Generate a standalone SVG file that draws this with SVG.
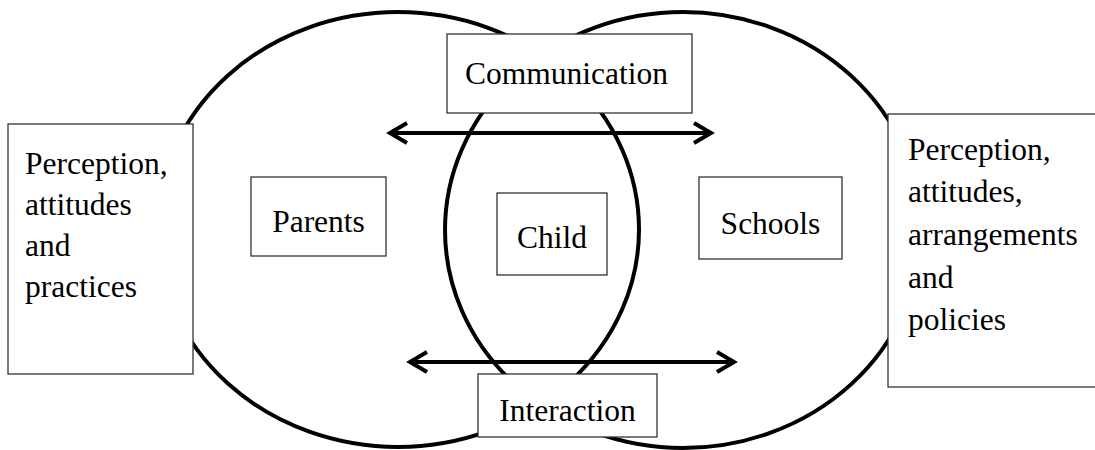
<svg xmlns="http://www.w3.org/2000/svg" width="1095" height="450" viewBox="0 0 1095 450">
<style>
.circ{fill:none;stroke:#000;stroke-width:4}
.box{fill:#fff;stroke:#333;stroke-width:1.3}
.t{font-family:"Liberation Serif","Times New Roman",serif;font-size:31.5px;fill:#000}
.arr{stroke:#000;stroke-width:4;fill:none}
</style>
<defs>
<marker id="head" markerUnits="userSpaceOnUse" markerWidth="30" markerHeight="30" refX="21" refY="13" orient="auto-start-reverse">
<path d="M4,3 L21,13 L4,23" fill="none" stroke="#000" stroke-width="4" stroke-linejoin="miter"/>
</marker>
</defs>
<g id="circles">
<ellipse id="parents-circle" class="circ" cx="398" cy="229.5" rx="241" ry="217.5"/>
<ellipse id="schools-circle" class="circ" cx="683" cy="230" rx="238" ry="218"/>
</g>
<g id="connectors">
<line class="arr" x1="390" y1="133" x2="711" y2="133" marker-start="url(#head)" marker-end="url(#head)"/>
<line class="arr" x1="410" y1="362" x2="734" y2="362" marker-start="url(#head)" marker-end="url(#head)"/>
</g>
<g id="left-box">
<rect class="box" x="8" y="124" width="185" height="250"/>
<text class="t" x="25" y="174">Perception,</text>
<text class="t" x="25" y="215">attitudes</text>
<text class="t" x="25" y="256">and</text>
<text class="t" x="25" y="297">practices</text>
</g>
<g id="right-box">
<rect class="box" x="888" y="114" width="212" height="273"/>
<text class="t" x="908" y="160">Perception,</text>
<text class="t" x="908" y="202">attitudes,</text>
<text class="t" x="908" y="245">arrangements</text>
<text class="t" x="908" y="288">and</text>
<text class="t" x="908" y="330">policies</text>
</g>
<g id="communication">
<rect class="box" x="447" y="34" width="245" height="79"/>
<text class="t" x="465" y="84">Communication</text>
</g>
<g id="parents">
<rect class="box" x="251" y="177" width="135" height="79"/>
<text class="t" x="318.5" y="232" text-anchor="middle">Parents</text>
</g>
<g id="child">
<rect class="box" x="497" y="193" width="110" height="82"/>
<text class="t" x="552" y="248" text-anchor="middle">Child</text>
</g>
<g id="schools">
<rect class="box" x="699" y="177" width="143" height="82"/>
<text class="t" x="770.5" y="234" text-anchor="middle">Schools</text>
</g>
<g id="interaction">
<rect class="box" x="478" y="374" width="179" height="63"/>
<text class="t" x="567.5" y="421" text-anchor="middle">Interaction</text>
</g>
</svg>
